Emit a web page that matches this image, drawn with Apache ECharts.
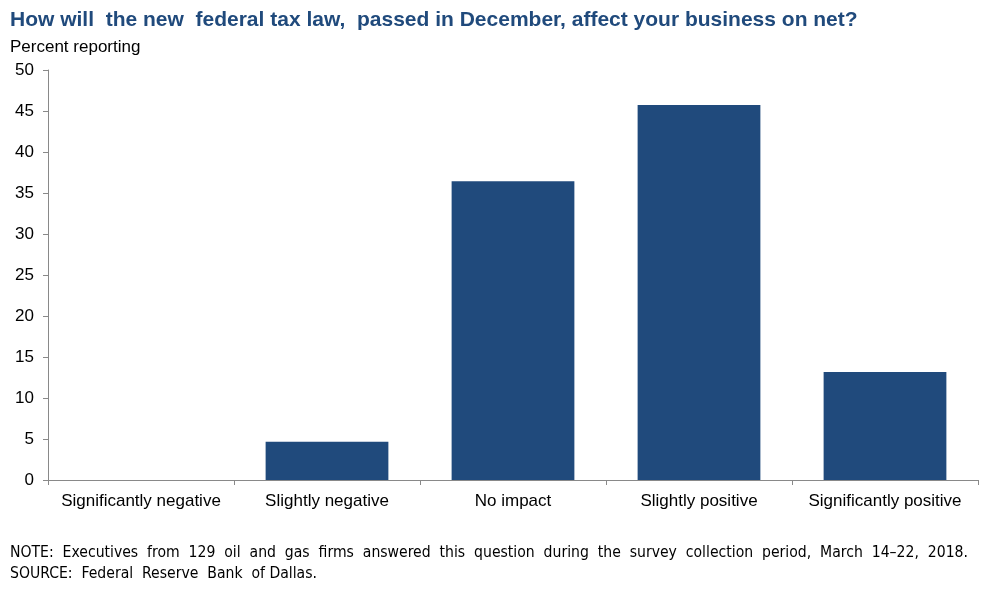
<!DOCTYPE html>
<html>
<head>
    <meta charset="utf-8">
    <title></title>
    <script src="https://cdn.jsdelivr.net/npm/echarts@6/dist/echarts.min.js"></script>
    <style>
        body{ margin: 0; background: #fff; }
        #chart{ width: 997px; height: 589px; }
    </style>
</head>
<body>
<div id="chart"></div>
<script>
    // 答案类别与占比（129 家企业）
    var categories = ['Significantly negative', 'Slightly negative', 'No impact', 'Slightly positive', 'Significantly positive'];
    var values = [0, 4.65, 36.43, 45.74, 13.18];

    var axisColor = '#898989';
    var barColor = '#204a7c';

    var option = {
        animation: false,
        title: [
            {
                text: 'How will  the new  federal tax law,  passed in December, affect your business on net?',
                left: 5, top: 5,
                textStyle: { color: barColor, fontFamily: 'Liberation Sans', fontWeight: 'bold', fontSize: 21 }
            },
            {
                text: 'Percent reporting',
                left: 5, top: 34,
                textStyle: { color: '#000', fontFamily: 'Liberation Sans', fontWeight: 'normal', fontSize: 17 }
            },
            {
                text: 'NOTE:  Executives  from  129  oil  and  gas  firms  answered  this  question  during  the  survey  collection  period,  March  14–22,  2018.\nSOURCE:  Federal  Reserve  Bank  of Dallas.',
                left: 5, top: 537,
                textStyle: { color: '#000', fontFamily: 'DejaVu Sans Condensed', fontWeight: 'normal', fontSize: 15.6, lineHeight: 21 }
            }
        ],
        grid: { left: 48, right: 19, top: 70, bottom: 109, containLabel: false },
        xAxis: {
            type: 'category',
            data: categories,
            axisLine: { lineStyle: { color: axisColor, width: 1 } },
            axisTick: { show: true, length: 5, lineStyle: { color: axisColor } },
            axisLabel: { color: '#000', fontFamily: 'Liberation Sans', fontSize: 17, margin: 13, interval: 0 }
        },
        yAxis: {
            type: 'value',
            min: 0, max: 50, interval: 5,
            splitLine: { show: false },
            axisLine: { show: true, lineStyle: { color: axisColor, width: 1 } },
            axisTick: { show: true, length: 5, lineStyle: { color: axisColor } },
            axisLabel: { color: '#000', fontFamily: 'Liberation Sans', fontSize: 17, margin: 14 }
        },
        series: [
            {
                type: 'bar',
                data: values,
                barWidth: '66%',
                itemStyle: { color: barColor }
            }
        ]
    };

    var myChart = echarts.init(document.getElementById('chart'));
    myChart.setOption(option);
</script>
</body>
</html>
